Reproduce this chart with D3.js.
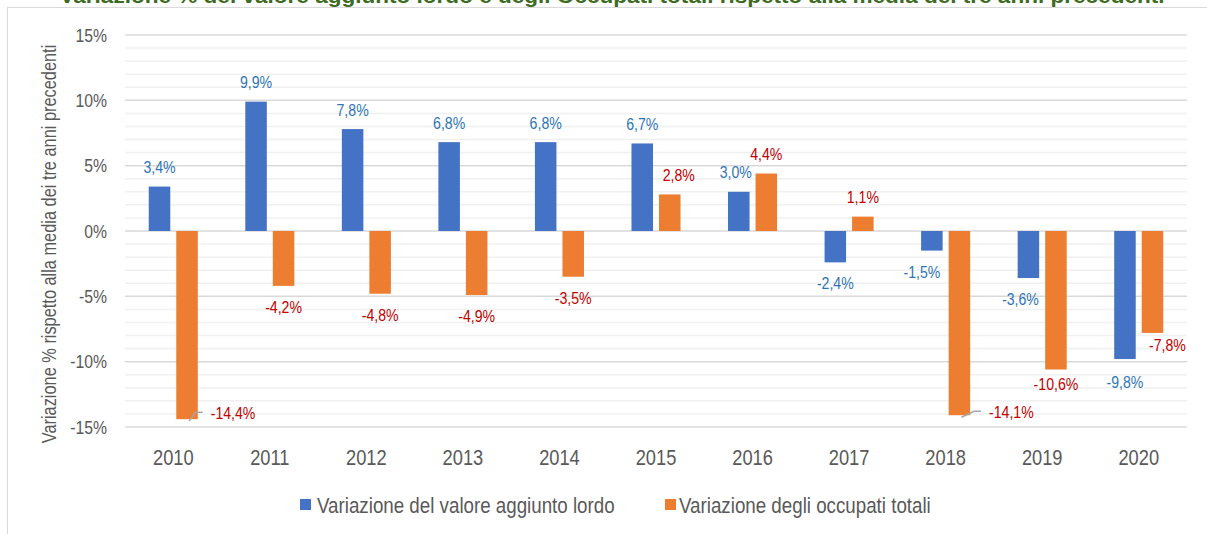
<!DOCTYPE html>
<html>
<head>
    <meta charset="utf-8">
    <title>Variazione VAL e occupati</title>
    <script src="https://cdnjs.cloudflare.com/ajax/libs/d3/7.8.5/d3.min.js"></script>
    <style>
        body { margin: 0; background: #fff; }
        svg { display: block; font-family: "Liberation Sans", Arial, sans-serif; }
    </style>
</head>
<body>
<script>
    var years = ["2010", "2011", "2012", "2013", "2014", "2015", "2016", "2017", "2018", "2019", "2020"];
    var valoreAggiunto = [3.4, 9.9, 7.8, 6.8, 6.8, 6.7, 3.0, -2.4, -1.5, -3.6, -9.8];
    var occupati = [-14.4, -4.2, -4.8, -4.9, -3.5, 2.8, 4.4, 1.1, -14.1, -10.6, -7.8];
    var yTicks = [15, 10, 5, 0, -5, -10, -15];
    var seriesNames = ["Variazione del valore aggiunto lordo", "Variazione degli occupati totali"];

    // label nudges (px) where excel moved the label by hand
    var nudgeVal = [[0,0],[0,0],[0,0],[0,0],[0,0],[0,0],[-3,0],[0,0],[-10,0],[-8,0],[0,2]];
    var nudgeOcc = [[46,-27],[0,0],[0,0],[0,0],[0,0],[9,0],[0,0],[0,0],[52,-24],[0,-7],[15,-9]];
    var leader = [true,false,false,false,false,false,false,false,true,false,false];

    var W = 1207, H = 534, SX = 0.83;
    var barColors = ["#4472C4", "#ED7D31"];
    var labelColors = ["#2E75B6", "#C00000"];
    var fmt = function(v) { return v.toFixed(1).replace(".", ",") + "%"; };

    var svg = d3.select("body").append("svg").attr("width", W).attr("height", H);

    svg.append("rect").attr("x", 7.5).attr("y", 7.5).attr("width", 1300).attr("height", 600)
        .attr("fill", "none").attr("stroke", "#D9D9D9");

    // condensed text helper
    function txt(g, x, y, s, size, anchor, fill, extra) {
        return g.append("text")
            .attr("transform", "translate(" + x + "," + y + ")" + (extra || "") + " scale(" + SX + ",1)")
            .attr("text-anchor", anchor).attr("font-size", size).attr("fill", fill).text(s);
    }

    // title sits above the frame and is clipped by the top edge, as in the original
    svg.append("text").attr("x", 612).attr("y", 3).attr("text-anchor", "middle")
        .attr("font-size", 20).attr("font-weight", "bold").attr("fill", "#3D6B21")
        .attr("textLength", 1105).attr("lengthAdjust", "spacingAndGlyphs")
        .text("Variazione % del valore aggiunto lordo e degli Occupati totali rispetto alla media dei tre anni precedenti");

    var y = d3.scaleLinear().domain([-15, 15]).range([427, 35]);
    var x0 = d3.scaleBand().domain(years).range([125, 1187]);
    var bw = x0.bandwidth();
    var grp = bw * 0.508;
    var x1 = d3.scaleBand().domain([0, 1]).range([(bw - grp) / 2, (bw + grp) / 2]).paddingInner(0.218);

    // gridlines
    var minor = d3.range(-15, 16, 1).filter(function(d) { return d % 5 !== 0; });
    svg.append("g").selectAll("line").data(minor).enter().append("line")
        .attr("x1", 125).attr("x2", 1187)
        .attr("y1", function(d) { return y(d); }).attr("y2", function(d) { return y(d); })
        .attr("stroke", "#F0F0F0").attr("stroke-width", 1.5);
    svg.append("g").selectAll("line").data(yTicks).enter().append("line")
        .attr("x1", 125).attr("x2", 1187)
        .attr("y1", function(d) { return y(d); }).attr("y2", function(d) { return y(d); })
        .attr("stroke", "#D9D9D9").attr("stroke-width", 1.5);

    var yl = svg.append("g");
    yTicks.forEach(function(t) { txt(yl, 107, y(t) + 6.5, t + "%", 19, "end", "#595959"); });
    txt(svg, 56, 244, "Variazione % rispetto alla media dei tre anni precedenti", 19.7, "middle", "#595959", " rotate(-90)");

    var xl = svg.append("g");
    years.forEach(function(yr) { txt(xl, x0(yr) + bw / 2, 465, yr, 22, "middle", "#595959"); });

    var series = [valoreAggiunto, occupati];
    var nudges = [nudgeVal, nudgeOcc];
    series.forEach(function(vals, s) {
        svg.append("g").selectAll("rect").data(vals).enter().append("rect")
            .attr("x", function(d, i) { return x0(years[i]) + x1(s); })
            .attr("width", x1.bandwidth())
            .attr("y", function(d) { return y(Math.max(0, d)); })
            .attr("height", function(d) { return Math.abs(y(d) - y(0)); })
            .attr("fill", barColors[s]);
    });

    var lab = svg.append("g");
    series.forEach(function(vals, s) {
        vals.forEach(function(d, i) {
            var cx = x0(years[i]) + x1(s) + x1.bandwidth() / 2;
            var ly = d >= 0 ? y(d) - 13.5 : y(d) + 27;
            var lx = cx + nudges[s][i][0];
            ly += nudges[s][i][1];
            var t = txt(lab, lx, ly, fmt(d), 17, "middle", labelColors[s]);
            if (s === 1 && leader[i]) {
                var half = t.node().getComputedTextLength() * SX / 2;
                var left = lx - half, mid = ly - 6;
                lab.append("polyline")
                    .attr("points", [[cx + 2, y(d) + 2], [left - 15, mid - 1], [left - 8, mid - 1]].join(" "))
                    .attr("fill", "none").attr("stroke", "#A6A6A6").attr("stroke-width", 1.5);
            }
        });
    });

    // legend
    var lg = svg.append("g");
    var legX = [[300, 317], [665, 679]];
    seriesNames.forEach(function(n, s) {
        lg.append("rect").attr("x", legX[s][0]).attr("y", 499).attr("width", 11).attr("height", 11)
            .attr("fill", barColors[s]);
        txt(lg, legX[s][1], 513, n, 22.6, "start", "#595959");
    });
</script>
</body>
</html>
